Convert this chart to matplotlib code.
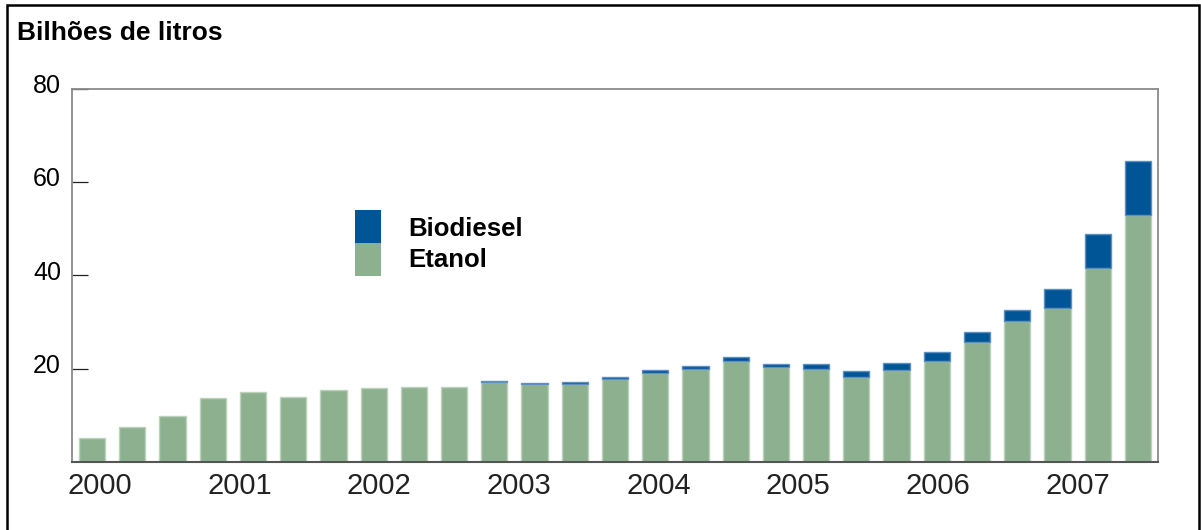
import matplotlib
matplotlib.use("Agg")
from matplotlib import pyplot as plt
from matplotlib.patches import Rectangle
from matplotlib.transforms import ScaledTranslation
import numpy as np

# Dados (bilhões de litros)
etanol = [5.2, 7.5, 9.8, 13.8, 15.0, 14.0, 15.4, 15.8, 16.1, 16.1,
          17.1, 16.7, 16.7, 17.7, 19.0, 19.9, 21.6, 20.4, 20.0, 18.1,
          19.8, 21.7, 25.8, 30.2, 33.0, 41.6, 52.8]
biodiesel = [0, 0, 0, 0, 0, 0, 0, 0, 0, 0,
             0.2, 0.2, 0.4, 0.4, 0.6, 0.7, 0.9, 0.6, 0.9, 1.3,
             1.4, 1.9, 2.1, 2.4, 4.0, 7.2, 11.6]
anos = ["2000", "2001", "2002", "2003", "2004", "2005", "2006", "2007"]
pos_anos = [0.19 + 3.473 * i for i in range(len(anos))]
yticks = [20, 40, 60, 80]

verde = "#8db18f"
azul = "#005596"

plt.rcParams['font.family'] = ['Liberation Sans', 'DejaVu Sans']

fig = plt.figure(figsize=(12.01, 5.30), dpi=100)
ax = fig.add_axes([72 / 1201, 1 - 462 / 530, (1158 - 72) / 1201, (462 - 88.5) / 530])

x = np.arange(len(etanol))
ax.bar(x, etanol, width=0.65, color=verde, edgecolor="#bcd2bd", linewidth=1)
# sem borda onde nao ha biodiesel
bordas = [1 if b > 0 else 0 for b in biodiesel]
ax.bar(x, biodiesel, width=0.65, bottom=etanol, color=azul, edgecolor="#5e90bf", linewidth=bordas)

ax.set_xlim(-0.5, 26.5)
ax.set_ylim(0, 80)

ax.set_yticks(yticks)
ax.set_yticklabels([str(v) for v in yticks], fontsize=18)
ax.tick_params(axis="y", direction="in", length=11.5, width=0.9, color="#222222", pad=8)
for t in ax.yaxis.get_major_ticks():
    t.label1.set_transform(t.label1.get_transform() + ScaledTranslation(0, 5 / 100, fig.dpi_scale_trans))

ax.set_xticks(pos_anos)
ax.set_xticklabels(anos, fontsize=21, color="#222222")
ax.tick_params(axis="x", length=0, pad=7)

for lado in ["left", "top", "right"]:
    ax.spines[lado].set_color("#8a8a8a")
    ax.spines[lado].set_linewidth(1.3)
ax.spines["bottom"].set_color("#555555")
ax.spines["bottom"].set_linewidth(1.5)

# titulo
fig.text(17 / 1201, 1 - 40 / 530, "Bilhões de litros", fontsize=19, fontweight="bold", va="baseline")

# legenda manual
fig.add_artist(Rectangle((355 / 1201, 1 - 243 / 530), 26 / 1201, 33 / 530,
                         transform=fig.transFigure, color=azul, lw=0))
fig.add_artist(Rectangle((355 / 1201, 1 - 276 / 530), 26 / 1201, 33 / 530,
                         transform=fig.transFigure, color=verde, lw=0))
fig.text(408 / 1201, 1 - 236 / 530, "Biodiesel", fontsize=18.5, fontweight="bold", va="baseline")
fig.text(408 / 1201, 1 - 266.7 / 530, "Etanol", fontsize=18.5, fontweight="bold", va="baseline")

# moldura
fig.add_artist(Rectangle((7 / 1201, -0.1), (1199 - 7) / 1201, 1.1 - 5 / 530,
                         transform=fig.transFigure, fill=False, edgecolor="black", lw=1.8))

fig.savefig("out.png", dpi=100)
